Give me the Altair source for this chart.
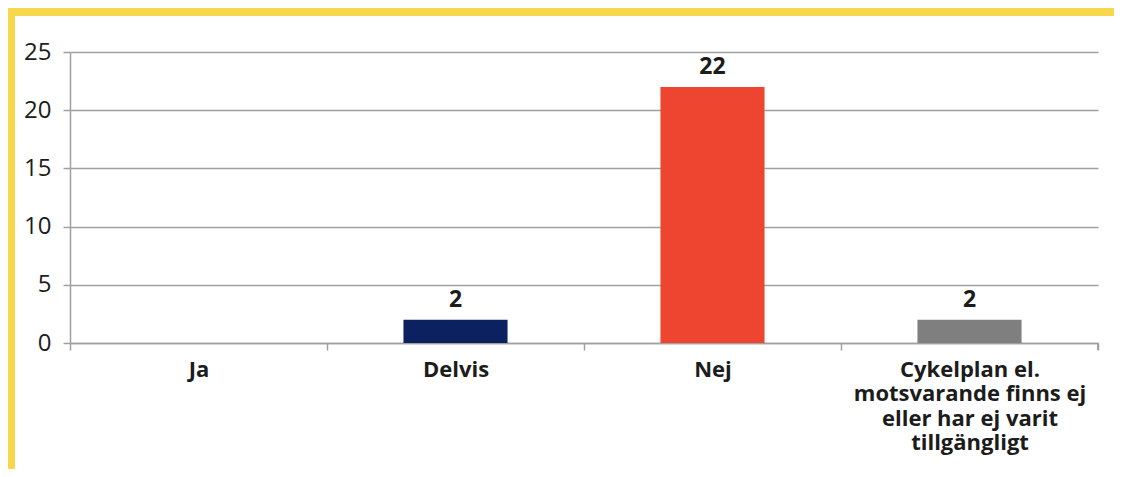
import altair as alt
import pandas as pd

categories = ["Ja", "Delvis", "Nej",
              "Cykelplan el. motsvarande finns ej eller har ej varit tillgängligt"]
values = [0, 2, 22, 2]
colors = ["#4472C4", "#0B2160", "#EE4530", "#7F7F7F"]
long_label_lines = ["Cykelplan el.", "motsvarande finns ej", "eller har ej varit", "tillgängligt"]
y_ticks = [0, 5, 10, 15, 20, 25]

df = pd.DataFrame({"cat": categories, "value": values, "color": colors})

YELLOW = "#F7D84C"
GRID = "#A0A0A0"
TEXT = "#1c1c1c"

W, H = 1028, 291

label_expr = "datum.value == '{}' ? [{}] : datum.label".format(
    categories[3], ", ".join("'{}'".format(s) for s in long_label_lines))

x_enc = alt.X("cat:N", sort=categories, title=None,
              scale=alt.Scale(paddingInner=0, paddingOuter=0),
              axis=alt.Axis(labelAngle=0, labelExpr=label_expr, labelLimit=320,
                            labelFont="Open Sans", labelFontWeight="bold", labelFontSize=22,
                            labelColor=TEXT, labelPadding=9, labelLineHeight=24.5,
                            labelBaseline="top",
                            tickSize=7, tickColor=GRID, tickWidth=1.5, tickBand="extent",
                            bandPosition=0, domainColor=GRID, domainWidth=1.5))
y_enc = alt.Y("value:Q", title=None,
              scale=alt.Scale(domain=[0, 25], nice=False),
              axis=alt.Axis(values=y_ticks, labelFont="Open Sans", labelFontSize=24,
                            labelColor=TEXT, labelPadding=12, tickSize=7, tickColor=GRID,
                            tickWidth=1.5, gridColor=GRID, gridWidth=1.5,
                            domainColor=GRID, domainWidth=1.5))

bars = alt.Chart(df).mark_bar(width={"band": 0.405}).encode(
    x=x_enc, y=y_enc,
    color=alt.Color("color:N", scale=None),
)

labels = alt.Chart(df).transform_filter("datum.value > 0").mark_text(
    font="Open Sans", fontWeight="bold", fontSize=23, color=TEXT,
    baseline="bottom", dy=-8,
).encode(x=alt.X("cat:N", sort=categories), y="value:Q", text="value:Q")

last_tick = alt.Chart(df).mark_rule(color=GRID, strokeWidth=1.5).encode(
    x=alt.value(W), y=alt.value(H), y2=alt.value(H + 7))

frame_top = alt.Chart(df).mark_rect(color=YELLOW).encode(
    x=alt.value(-62), x2=alt.value(W + 40), y=alt.value(-44), y2=alt.value(-36))
frame_left = alt.Chart(df).mark_rect(color=YELLOW).encode(
    x=alt.value(-62), x2=alt.value(-55), y=alt.value(-44), y2=alt.value(H + 140))

chart = alt.layer(frame_top, frame_left, bars, labels, last_tick).properties(
    width=W, height=H,
    autosize=alt.AutoSizeParams(type="none"),
    padding={"left": 62, "top": 44, "right": 16, "bottom": 126},
    background="white",
).configure_view(stroke=None)

chart.save("out.html", embed_options={"renderer": "svg", "actions": False})
